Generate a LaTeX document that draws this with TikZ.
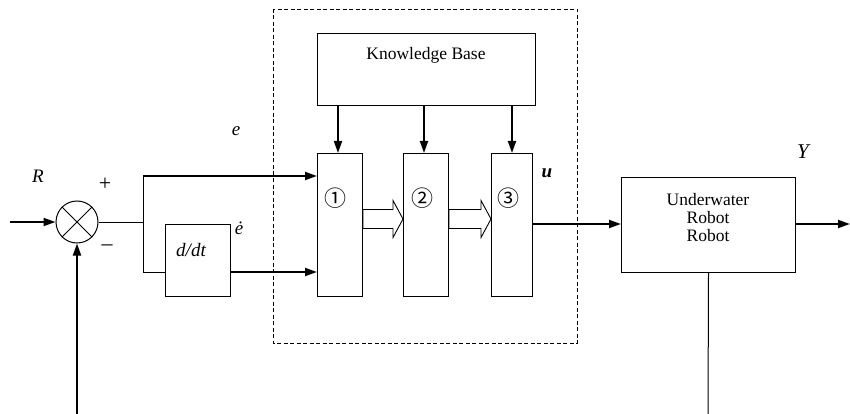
\documentclass[tikz,border=0pt]{standalone}
\usepackage{fontspec}
\setmainfont{Liberation Serif}
\newfontfamily\circfont{Noto Sans CJK SC}
\usetikzlibrary{arrows.meta,calc}
\begin{document}
\begin{tikzpicture}[x=1pt,y=-1pt,
  font=\fontsize{17.5}{19}\selectfont,
  blk/.style={draw,line width=1pt,inner sep=0pt,anchor=north west},
  sig/.style={line width=1.9pt,-{Triangle[length=12pt,width=8pt]}},
  wire/.style={line width=1pt},
  lbl/.style={inner sep=0pt},
  sym/.style={inner sep=0pt,font=\fontsize{19}{20}\selectfont\itshape},
  circnum/.style={inner sep=0pt,font=\circfont\fontsize{22}{22}\selectfont},
  hollow/.style={draw,fill=white,line width=0.9pt,line join=miter}]
\useasboundingbox (0,0) rectangle (850,414);

% dashed frame around the controller
\draw[line width=0.8pt,dash pattern=on 4pt off 2.5pt] (273,9) rectangle (577,343);

% summing junction
\node[draw,circle,line width=1pt,minimum size=42pt,inner sep=0pt] (sum) at (77,222) {};
\draw[line width=1pt] (sum.north west) -- (sum.south east)
                      (sum.north east) -- (sum.south west);

% blocks
\node[blk,minimum width=65pt,minimum height=72pt] (ddt) at (165,224) {};
\node[blk,minimum width=218pt,minimum height=72pt] (kb) at (317,33) {};
\node[blk,minimum width=45pt,minimum height=143pt] (b1) at (317,153) {};
\node[blk,minimum width=45pt,minimum height=143pt] (b2) at (403,153) {};
\node[blk,minimum width=41pt,minimum height=143pt] (b3) at (491,153) {};
\node[blk,minimum width=174pt,minimum height=95pt] (rob) at (621,177) {};

% block texts
\node[sym] (ddttxt) at (191,250) {d/dt};
\node[lbl] (kbtxt) at (426,55) {Knowledge Base};
\node[lbl,align=center] (robtxt) at (708,218) {Underwater\\[-1pt]Robot\\[-1pt]Robot};
\node[circnum] (n1) at (335,198) {①};
\node[circnum] (n2) at (422,198) {②};
\node[circnum] (n3) at (508,198) {③};

% signal labels
\node[sym] (lR) at (38,176) {R};
\node[lbl,font=\fontsize{22}{22}\selectfont] (lplus) at (105,184) {+};
\node[lbl,font=\fontsize{22}{22}\selectfont] (lminus) at (107,248) {\textendash};
\node[sym] (le) at (236,131) {e};
\node[sym] (led) at (239,228) {\.{e}};
\node[sym,font=\fontsize{19}{20}\selectfont\bfseries\itshape] (lu) at (547,173) {u};
\node[sym,font=\fontsize{21}{22}\selectfont\itshape] (lY) at (803,152) {Y};

% branch points and free ends
\coordinate (in) at (10,222);
\coordinate (fb) at (77,414);
\coordinate (br) at (143,222);
\coordinate (brt) at (143,176);
\coordinate (brb) at (143,272);
\coordinate (out) at (850,224);
\coordinate (robdown) at (708,414);

% input side
\draw[sig] (in) -- (sum.west);
\draw[sig] (fb) -- (sum.south);
\draw[wire] (sum.east) -- (br);
\draw[wire] (brt) -- (brb) -- (ddt.west |- brb);
\draw[sig] (brt) -- (b1.west |- brt);
\draw[sig] (ddt.east |- brb) -- (b1.west |- brb);

% knowledge base to the three stages
\draw[sig] (kb.south -| 338,0) -- (b1.north -| 338,0);
\draw[sig] (kb.south -| 424,0) -- (b2.north -| 424,0);
\draw[sig] (kb.south -| 512,0) -- (b3.north -| 512,0);

% hollow arrows between stages
\foreach \a/\b in {b1/b2,b2/b3}{
  \draw[hollow] ($(\a.east)+(0,-15.5)$) -- ($(\b.west)+(-10,-15.5)$)
     -- ($(\b.west)+(-10,-24.5)$) -- ($(\b.west)+(0,-6)$)
     -- ($(\b.west)+(-10,12.5)$) -- ($(\b.west)+(-10,3.5)$)
     -- ($(\a.east)+(0,3.5)$) -- cycle;
}

% plant and output
\draw[sig] (b3.east |- out) -- (rob.west |- out);
\draw[sig] (rob.east |- out) -- (out);
\draw[wire] (rob.south) -- (robdown);
\end{tikzpicture}
\end{document}
